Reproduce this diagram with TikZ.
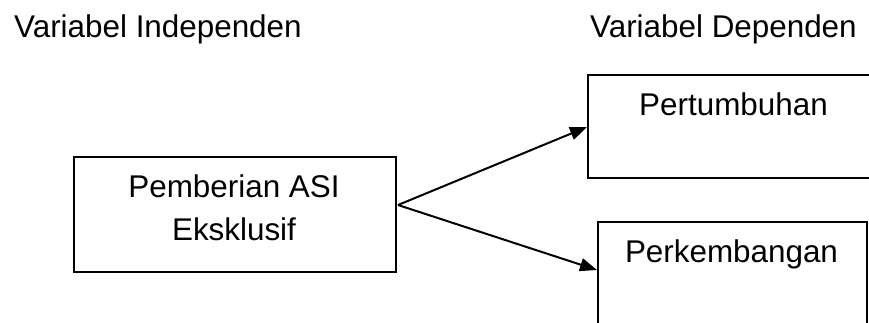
\documentclass[tikz,border=0pt]{standalone}
\usepackage{fontspec}
\setmainfont{Liberation Sans}
\usetikzlibrary{arrows.meta,calc}
\begin{document}
\begin{tikzpicture}[x=1pt,y=-1pt,
  box/.style={draw=black,line width=2pt,rectangle,inner sep=0pt,anchor=north west},
  lbl/.style={inner sep=0pt,font=\fontsize{31.4}{43}\selectfont,text=black},
  arr/.style={draw=black,line width=2pt,-{Triangle[length=17pt,width=13pt]}}]
\useasboundingbox (0,0) rectangle (869,322);
\clip (0,0) rectangle (869,322);
\fill[white] (0,0) rectangle (869,322);
% titles
\node[lbl,anchor=base west] (tind) at (14,37) {Variabel Independen};
\node[lbl,anchor=base west] (tdep) at (590,37) {Variabel Dependen};
% boxes
\node[box,minimum width=322pt,minimum height=115pt] (asi) at (73,156) {};
\node[box,minimum width=293pt,minimum height=103pt] (pert) at (587,74) {};
\node[box,minimum width=269pt,minimum height=105pt] (perk) at (597,221) {};
% texts
\node[lbl,anchor=base,align=center] (asitxt) at (234,240) {Pemberian ASI\\Eksklusif};
\node[lbl,anchor=base] (perttxt) at (733.5,115) {Pertumbuhan};
\node[lbl,anchor=base] (perktxt) at (731.5,262) {Perkembangan};
% connectors
\coordinate (o) at ($(asi.north east)+(1,49)$);
\coordinate (pin) at ($(pert.north west)+(0,53)$);
\coordinate (kin) at ($(perk.north west)+(0,49)$);
\draw[arr] (o) -- (pin);
\draw[arr] (o) -- (kin);
\end{tikzpicture}
\end{document}
